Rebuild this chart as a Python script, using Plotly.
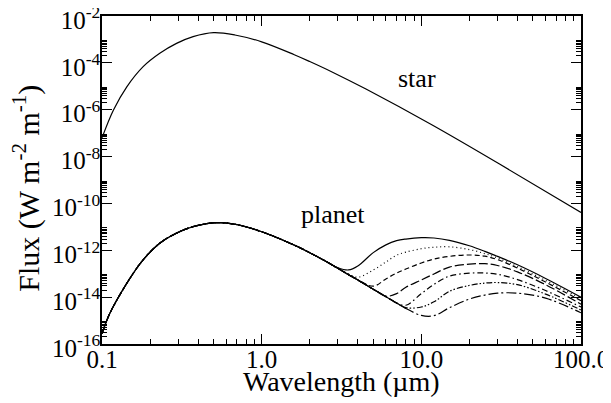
import plotly.graph_objects as go

# ---------------- data ----------------
star_wl = [0.1, 0.118, 0.143, 0.181, 0.23, 0.293, 0.372, 0.5, 0.68, 1.0, 1.6, 2.0, 2.8, 4.5, 11.7, 30.7, 100.0]
star_flux = [6.3e-8, 9.8e-7, 9.5e-6, 6.9e-5, 2.57e-4, 6.8e-4, 1.32e-3, 1.95e-3, 1.55e-3, 7.9e-4,
             2.23e-4, 1.14e-4, 3.9e-5, 7.6e-6, 2.21e-7, 4.9e-9, 4.1e-11]

# reflected light part of the planet spectrum (common to all planet curves)
refl_wl = [0.1, 0.112, 0.143, 0.181, 0.23, 0.293, 0.372, 0.52, 0.68, 1.0, 1.6, 2.0, 2.5]
refl_flux = [2.8e-16, 2.04e-15, 3.9e-14, 3.9e-13, 2.0e-12, 5.4e-12, 1.02e-11, 1.51e-11, 1.29e-11,
             6.2e-12, 1.66e-12, 7.9e-13, 3.5e-13]

# reflected-only continuation (drawn solid under the thermal curves)
refl_tail_wl = [2.5, 3.0, 3.5, 4.0, 5.0, 6.0, 7.0, 8.0]
refl_tail_flux = [3.5e-13, 1.70e-13, 9.1e-14, 5.4e-14, 2.19e-14, 1.05e-14, 5.6e-15, 3.3e-15]

# wavelength grid for the thermal (infrared) part
ir_wl = [3, 3.5, 4, 5, 6, 7, 8, 10, 12, 15, 20, 25, 30, 40, 60, 100]

planet_ir = {
    "solid": [1.80e-13, 1.445e-13, 2.14e-13, 7.94e-13, 1.70e-12, 2.57e-12, 3.02e-12, 3.45e-12,
              3.35e-12, 2.67e-12, 1.56e-12, 9.0e-13, 5.5e-13, 2.40e-13, 6.3e-14, 1.0e-14],
    "dot": [1.70e-13, 9.8e-14, 7.1e-14, 1.445e-13, 3.16e-13, 6.2e-13, 8.3e-13, 1.17e-12,
            1.35e-12, 1.41e-12, 1.07e-12, 7.2e-13, 4.7e-13, 2.0e-13, 5.2e-14, 8.7e-15],
    "dash": [1.70e-13, 9.1e-14, 5.5e-14, 2.95e-14, 6.0e-14, 1.07e-13, 1.58e-13, 2.88e-13,
             4.2e-13, 5.5e-13, 6.3e-13, 5.6e-13, 4.0e-13, 1.74e-13, 4.4e-14, 7.1e-15],
    "longdash": [1.70e-13, 9.1e-14, 5.4e-14, 2.19e-14, 1.10e-14, 1.41e-14, 2.63e-14, 5.4e-14,
                 9.8e-14, 1.91e-13, 2.57e-13, 2.69e-13, 2.24e-13, 1.20e-13, 3.4e-14, 5.0e-15],
    "dashdot": [1.70e-13, 9.1e-14, 5.4e-14, 2.19e-14, 1.05e-14, 5.6e-15, 4.5e-15, 1.41e-14,
                3.5e-14, 7.9e-14, 1.05e-13, 1.07e-13, 9.5e-14, 5.6e-14, 1.91e-14, 3.8e-15],
    "dashdotdot": [1.70e-13, 9.1e-14, 5.4e-14, 2.19e-14, 1.05e-14, 5.6e-15, 3.55e-15, 3.8e-15,
                   6.3e-15, 1.78e-14, 3.16e-14, 3.98e-14, 4.2e-14, 3.4e-14, 1.35e-14, 2.82e-15],
    "longdashdot": [1.70e-13, 9.1e-14, 5.4e-14, 2.19e-14, 1.05e-14, 5.6e-15, 3.3e-15, 1.66e-15,
                    1.62e-15, 3.55e-15, 8.3e-15, 1.23e-14, 1.48e-14, 1.48e-14, 9.1e-15, 2.14e-15],
}

x_tickvals = [0.1, 1, 10, 100]
x_ticktext = ["0.1", "1.0", "10.0", "100.0"]
y_exponents = [-16, -14, -12, -10, -8, -6, -4, -2]

# ---------------- styles ----------------
dash_styles = {
    "solid": "solid",
    "dot": "1px,3px",
    "dash": "5px,3px",
    "longdash": "9px,3px",
    "dashdot": "6px,3px,1.5px,3px",
    "dashdotdot": "6px,2px,1.5px,2px,1.5px,2px",
    "longdashdot": "10px,3px,2px,3px",
}

FONT = "Liberation Serif, Times New Roman, serif"

fig = go.Figure()

fig.add_trace(go.Scatter(x=star_wl, y=star_flux, mode="lines",
                         line=dict(color="black", width=1.2, shape="spline", smoothing=1.0),
                         showlegend=False))

fig.add_trace(go.Scatter(x=refl_tail_wl, y=refl_tail_flux, mode="lines",
                         line=dict(color="black", width=1.2, shape="spline", smoothing=1.0),
                         showlegend=False))

for name, vals in planet_ir.items():
    fig.add_trace(go.Scatter(x=refl_wl + ir_wl, y=refl_flux + vals, mode="lines",
                             line=dict(color="black", width=1.2, dash=dash_styles[name],
                                       shape="spline", smoothing=1.0),
                             showlegend=False))

x_minor = [m * 10 ** e for e in (-1, 0, 1) for m in range(2, 10)]
y_minor = [m * 10.0 ** e for e in (-16, -14, -12, -10, -8, -6, -4) for m in range(2, 10)]

axis_common = dict(showline=True, linecolor="black", linewidth=1.5, mirror="allticks",
                   ticks="inside", ticklen=10, tickwidth=1.2, tickcolor="black",
                   showgrid=False, zeroline=False, automargin=False, ticklabeloverflow="allow",
                   tickfont=dict(family=FONT, size=25, color="black"))

fig.update_xaxes(type="log", range=[-1, 2], tickmode="array", tickvals=x_tickvals, ticktext=x_ticktext,
                 ticklabelstandoff=-8,
                 minor=dict(tickmode="array", tickvals=x_minor, ticks="inside", ticklen=5,
                            tickwidth=1, tickcolor="black", showgrid=False),
                 **axis_common)

fig.update_yaxes(type="log", range=[-16, -2], tickmode="array",
                 tickvals=[10.0 ** e for e in y_exponents],
                 ticktext=[f"10<sup>{e}</sup>" for e in y_exponents],
                 ticklabelstandoff=-5, ticklabelshift=4,
                 minor=dict(tickmode="array", tickvals=y_minor, ticks="inside", ticklen=5,
                            tickwidth=1, tickcolor="black", showgrid=False),
                 **axis_common)

# axis titles
fig.add_annotation(text="Wavelength (\u00b5m)", xref="paper", yref="paper", x=0.501, y=-0.113,
                   xanchor="center", yanchor="middle", showarrow=False,
                   font=dict(family=FONT, size=28, color="black"))
fig.add_annotation(text="Flux (W m<sup>-2</sup> m<sup>-1</sup>)", xref="paper", yref="paper",
                   x=-0.157, y=0.476, xanchor="center", yanchor="middle", textangle=-90,
                   showarrow=False, font=dict(family=FONT, size=30, color="black"))

# curve labels
fig.add_annotation(text="star", xref="paper", yref="paper", x=0.658, y=0.808,
                   xanchor="center", yanchor="middle",
                   showarrow=False, font=dict(family=FONT, size=26, color="black"))
fig.add_annotation(text="planet", xref="paper", yref="paper", x=0.482, y=0.394,
                   xanchor="center", yanchor="middle",
                   showarrow=False, font=dict(family=FONT, size=26, color="black"))

# the page adds an 8px body margin; margins compensate so the plot lands where the reference has it
fig.update_layout(width=611, height=403, margin=dict(l=94, r=38, t=8, b=67),
                  plot_bgcolor="white", paper_bgcolor="white")

fig.write_html("out.html")
